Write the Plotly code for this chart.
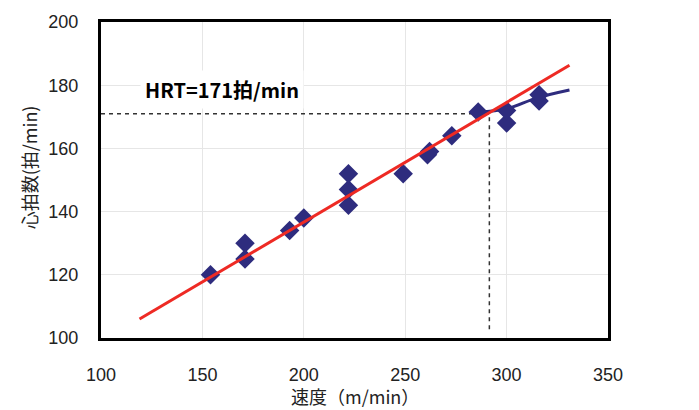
import plotly.graph_objects as go

speed = [154, 171, 171, 193, 200, 222, 222, 222, 249, 261, 262, 273, 286, 300, 300, 316, 316]
heart_rate = [120, 125, 130, 134, 138, 142, 147, 152, 152, 158, 159, 164, 171.5, 168, 172, 175, 177]

curve_x = [286, 300, 315, 331]
curve_y = [171.5, 172.5, 176, 178.5]

fit_x = [119, 331]
fit_y = [106, 186.3]

hrt_value = 171
hrt_speed = 291.5

x_ticks = [100, 150, 200, 250, 300, 350]
y_ticks = [100, 120, 140, 160, 180, 200]

font_fam = "Liberation Sans, Arial, sans-serif"
cjk = "Noto Sans CJK JP, sans-serif"

fig = go.Figure()
fig.add_trace(go.Scatter(x=[100, hrt_speed, hrt_speed], y=[hrt_value, hrt_value, 102],
                         mode="lines", line=dict(color="#333333", width=1.5, dash="4px,4px"),
                         hoverinfo="skip", showlegend=False))
fig.add_trace(go.Scatter(x=curve_x, y=curve_y, mode="lines", line=dict(color="#2E2C7E", width=3, shape="spline"),
                         showlegend=False))
fig.add_trace(go.Scatter(x=speed, y=heart_rate, mode="markers",
                         marker=dict(symbol="diamond", size=15, color="#2E2C7E"), showlegend=False))
fig.add_trace(go.Scatter(x=fit_x, y=fit_y, mode="lines", line=dict(color="#EE2A24", width=3),
                         showlegend=False))

fig.add_annotation(x=119, y=178.5, xref="x", yref="y", xanchor="left", yanchor="middle",
                   text="<b>HRT=171拍/min</b>", showarrow=False, bgcolor="white",
                   font=dict(family=cjk, size=20, color="black"), borderpad=4)

fig.add_annotation(x=0.5, y=-0.182, xref="paper", yref="paper", xanchor="center", yanchor="middle",
                   text="速度（m/min）", showarrow=False, font=dict(family=cjk, size=18, color="#222222"))
fig.add_annotation(x=-0.142, y=0.54, xref="paper", yref="paper", xanchor="center", yanchor="middle",
                   text="心拍数(拍/min)", textangle=-90, showarrow=False,
                   font=dict(family=cjk, size=18, color="#222222"))

fig.update_layout(
    width=691, height=402,
    margin=dict(l=93, r=91, t=14, b=72),
    paper_bgcolor="white", plot_bgcolor="white",
    font=dict(family=font_fam, size=18, color="#222222"),
    xaxis=dict(range=[100, 350], tickvals=x_ticks, showgrid=True, gridcolor="#E6E6E6", gridwidth=1,
               showline=True, linecolor="black", linewidth=3, mirror=True, zeroline=False, ticks="",
               ticklabelstandoff=18, automargin=False),
    yaxis=dict(range=[100, 200], tickvals=y_ticks, showgrid=True, gridcolor="#E6E6E6", gridwidth=1,
               showline=True, linecolor="black", linewidth=3, mirror=True, zeroline=False, ticks="",
               ticklabelstandoff=16, automargin=False),
)

fig.write_html("out.html")
